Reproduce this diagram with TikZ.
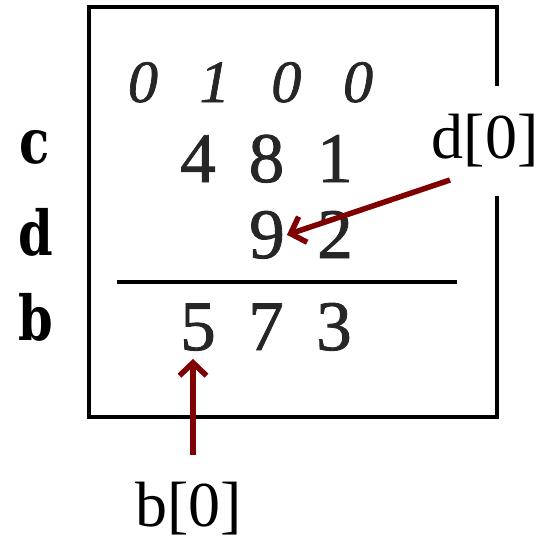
\documentclass[tikz,border=0pt]{standalone}
\usepackage{fontspec}
\setmainfont{Liberation Serif}
\newfontfamily\digitfont[FakeBold=1.2]{Liberation Serif}
\newfontfamily\labelfont[FakeStretch=0.8]{DejaVu Serif}
\usetikzlibrary{arrows.meta}
\definecolor{arrowred}{HTML}{7F0000}

\begin{document}
\begin{tikzpicture}[x=1pt,y=-1pt,
  digit/.style={font=\digitfont\fontsize{71}{71}\selectfont, text=black!85, inner sep=2pt, anchor=base},
  carry/.style={font=\digitfont\fontsize{60}{60}\selectfont\itshape, text=black!85, inner sep=0pt, anchor=base},
  rowlabel/.style={font=\labelfont\fontsize{62}{62}\selectfont\bfseries, inner sep=0pt, anchor=base},
  tag/.style={font=\fontsize{64}{64}\selectfont, inner xsep=2pt},
  arr/.style={-{Straight Barb[length=13pt,width=27pt]}, line width=5.5pt, arrowred}]
  \useasboundingbox (0,0) rectangle (541,542);

  \draw[line width=4pt] (89,7) rectangle (497,417);
  \draw[line width=4pt] (117,282) -- (457,282);

  % carries and the two addends
  \foreach \d [count=\i] in {0,1,0,0}
    \node[carry] (carry\i) at ({143+71.7*(\i-1)},102) {\d};
  \foreach \d [count=\i] in {4,8,1}
    \node[digit] (c\i) at ({198+68.5*(\i-1)},182) {\d};
  \node[digit] (nine) at (267,258) {9};
  \node[digit] (two) at (335,258) {2};
  \foreach \d [count=\i] in {5,7,3}
    \node[digit] (b\i) at ({198+68*(\i-1)},350) {\d};

  \node[rowlabel] (clab) at (35,163) {c};
  \node[rowlabel] (dlab) at (36,255) {d};
  \node[rowlabel] (blab) at (36,340) {b};

  % pointers
  \node[tag, fill=white, minimum height=110pt] (dtag) at (485,141) {d[0]};
  \node[tag] (btag) at (189,509) {b[0]};
  \coordinate (dtail) at (450,180);
  \coordinate (btail) at (193,455);
  \draw[arr] (dtail) -- (nine.east);
  \draw[arr, shorten >=6pt] (btail) -- (btail |- b1.south);
\end{tikzpicture}
\end{document}
